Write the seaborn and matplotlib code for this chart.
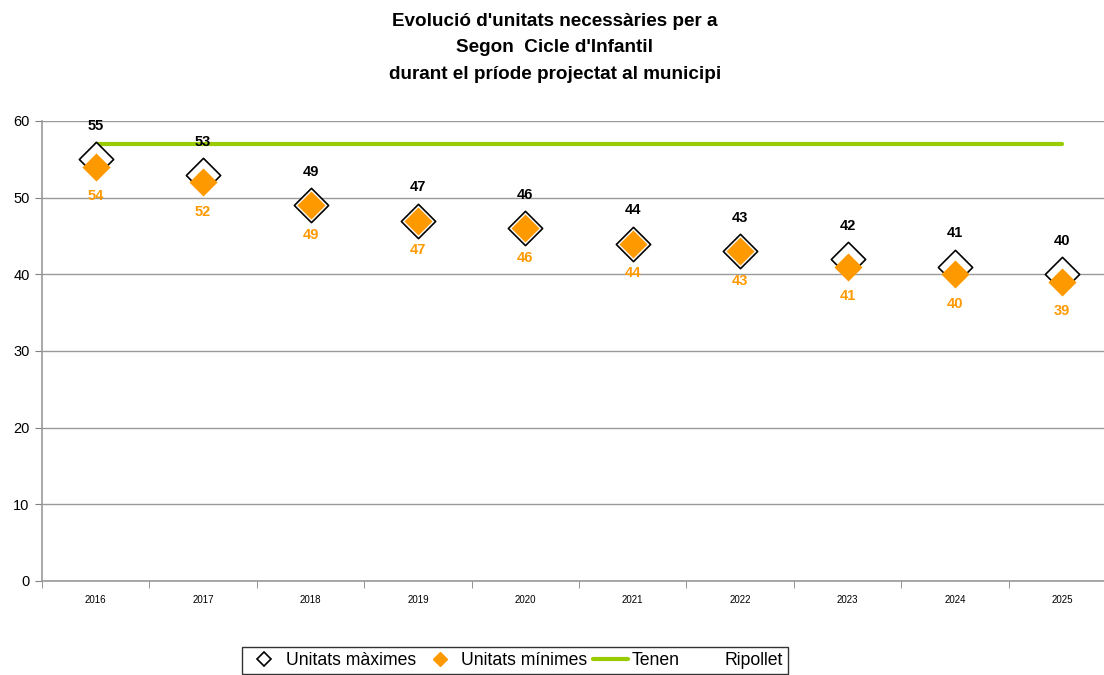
import matplotlib
matplotlib.use("Agg")
import matplotlib.pyplot as plt
from matplotlib.lines import Line2D
import seaborn as sns
import pandas as pd

years = ["2016", "2017", "2018", "2019", "2020", "2021", "2022", "2023", "2024", "2025"]
max_units = [55, 53, 49, 47, 46, 44, 43, 42, 41, 40]
min_units = [54, 52, 49, 47, 46, 44, 43, 41, 40, 39]
tenen = [57, 57, 57, 57, 57, 57, 57, 57, 57, 57]
y_ticks = [0, 10, 20, 30, 40, 50, 60]

title = "Evolució d'unitats necessàries per a\nSegon  Cicle d'Infantil\ndurant el príode projectat al municipi"

df = pd.DataFrame({"year": years, "max": max_units, "min": min_units, "tenen": tenen})

sns.set_style("white")
plt.rcParams["font.family"] = ["Liberation Sans", "DejaVu Sans"]
plt.rcParams["text.color"] = "black"
plt.rcParams["xtick.color"] = "black"
plt.rcParams["ytick.color"] = "black"

fig = plt.figure(figsize=(11.04, 6.75), dpi=100)
ax = fig.add_axes([42/1104, 1-581/675, (1116-42)/1104, (581-121)/675])

orange = "#FF9900"
green = "#99CC00"

sns.lineplot(data=df, x="year", y="tenen", ax=ax, color=green, linewidth=3, zorder=2, sort=False)
sns.scatterplot(data=df, x="year", y="max", ax=ax, marker="D", s=305, facecolor="white",
                edgecolor="black", linewidth=1.2, zorder=3)
sns.scatterplot(data=df, x="year", y="min", ax=ax, marker="D", s=205, color=orange,
                edgecolor=orange, linewidth=0, zorder=4)

for i, (mx, mn) in enumerate(zip(max_units, min_units)):
    ax.annotate(str(mx), (i, mx), xytext=(0, 21), textcoords="offset points", ha="center",
                va="baseline", fontsize=10.5, fontweight="bold", color="black", zorder=6)
    ax.annotate(str(mn), (i, mn), xytext=(0, -24), textcoords="offset points", ha="center",
                va="baseline", fontsize=10.5, fontweight="bold", color=orange, zorder=6)

ax.set_xlim(-0.5, len(years) - 0.5)
ax.set_ylim(0, 60)
ax.set_yticks(y_ticks)
ax.set_xticks(range(len(years)))
ax.set_xticklabels(years, fontsize=7)
ax.set_xticks([i - 0.5 for i in range(len(years) + 1)], minor=True)
ax.tick_params(axis="x", which="major", length=0, pad=10)
ax.tick_params(axis="x", which="minor", length=5, color="#808080", direction="out", bottom=True)
ax.tick_params(axis="y", labelsize=10.5, length=5, color="#808080", direction="out", left=True, pad=4)
ax.grid(axis="y", color="#999999", linewidth=1)
ax.set_axisbelow(True)
for s in ["top", "right"]:
    ax.spines[s].set_visible(False)
for s in ["left", "bottom"]:
    ax.spines[s].set_color("#999999")
    ax.spines[s].set_linewidth(1.2)
ax.set_xlabel("")
ax.set_ylabel("")

fig.text(555/1104, 1-13/675, title, ha="center", va="top", fontsize=13.6, fontweight="bold",
         linespacing=1.72)

handles = [
    Line2D([], [], marker="D", linestyle="none", markerfacecolor="white", markeredgecolor="black",
           markersize=7, markeredgewidth=1.2),
    Line2D([], [], marker="D", linestyle="none", markerfacecolor=orange, markeredgecolor=orange,
           markersize=7),
    Line2D([], [], color=green, linewidth=3),
    Line2D([], [], linestyle="none"),
]
labels = ["Unitats màximes", "Unitats mínimes", "Tenen", "Ripollet"]
leg = fig.legend(handles, labels, loc="upper center", bbox_to_anchor=(515/1104, 1-638/675),
                 ncol=4, frameon=True, fancybox=False, edgecolor="black", fontsize=12.7,
                 handlelength=2.0, handletextpad=0.2, columnspacing=0.35, borderpad=0.3)
leg.get_frame().set_linewidth(1.0)

fig.savefig("out.png", dpi=100)
